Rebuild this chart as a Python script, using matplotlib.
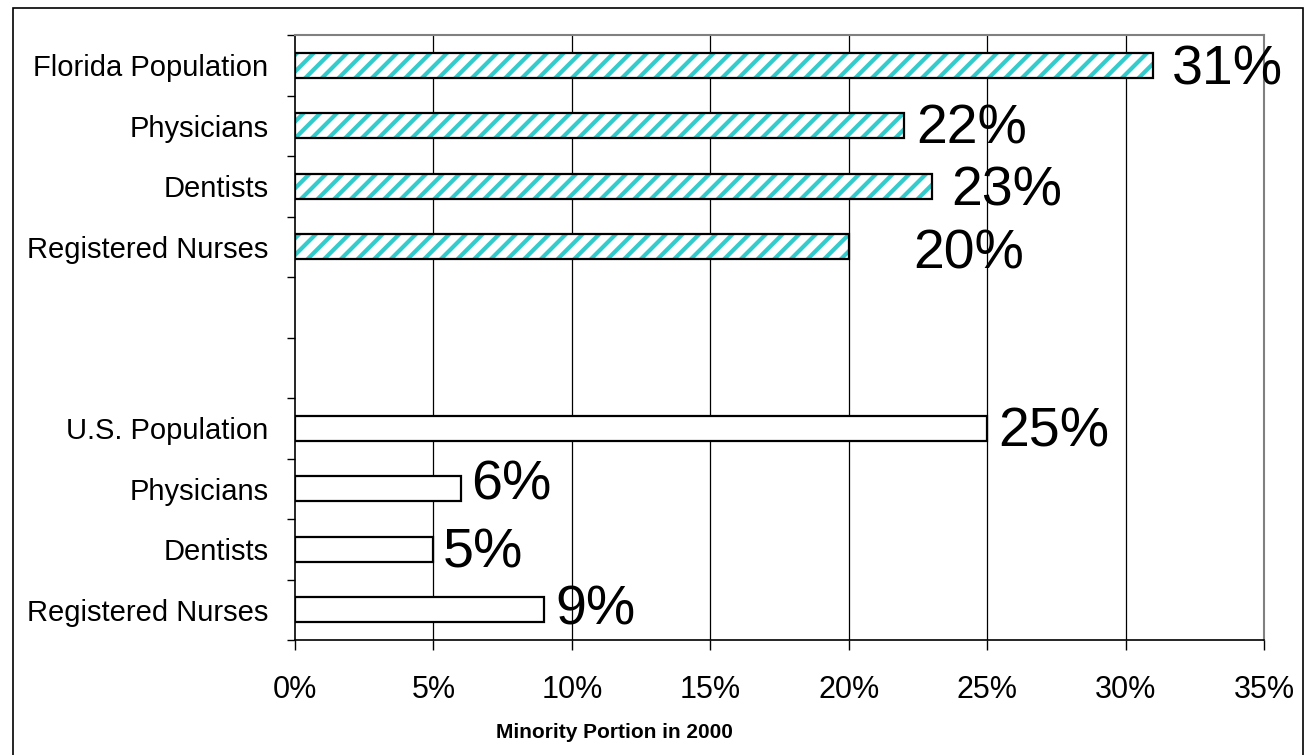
import numpy as np
import matplotlib
matplotlib.use("Agg")
import matplotlib.pyplot as plt
from matplotlib import font_manager
from matplotlib.patches import Rectangle


# top-to-bottom slots; the two blank slots separate Florida from the U.S.
CATEGORIES = [
    "Florida Population", "Physicians", "Dentists", "Registered Nurses",
    "", "",
    "U.S. Population", "Physicians", "Dentists", "Registered Nurses",
]
FLORIDA_VALUES = [31, 22, 23, 20]
US_VALUES = [25, 6, 5, 9]
VALUE_LABELS_FL = ["31%", "22%", "23%", "20%"]
VALUE_LABELS_US = ["25%", "6%", "5%", "9%"]
XTICKS = [0, 5, 10, 15, 20, 25, 30, 35]
XTICK_LABELS = ["0%", "5%", "10%", "15%", "20%", "25%", "30%", "35%"]

# label nudges in pixels (dx right, dy down from the bar centre), style only
NUDGE_FL = [(19, -1), (12, -2), (19, -1), (65, 2)]
NUDGE_US = [(11, -2), (10, -9), (9, -2), (11, -5)]

FONT = ["Liberation Sans", "Arial", "DejaVu Sans"]
TEAL = "#33CCCC"
LABEL_SIZE = 40
CAP = 0.716  # cap height of Liberation Sans in em

plt.rcParams["font.family"] = FONT
plt.rcParams["hatch.linewidth"] = 3.0

W, H = 1313, 755
PX = 72 / 100  # points per pixel at dpi 100
fig = plt.figure(figsize=(W / 100, H / 100), dpi=100)
ax = fig.add_axes([295 / W, 1 - 640 / H, (1264 - 295) / W, (640 - 35) / H])

fl_pos = np.arange(0, 4)
us_pos = np.arange(6, 10)
bar_h = 0.42

# hatch takes the edge colour, so the teal stripes and the black outline are two layers
ax.barh(fl_pos, FLORIDA_VALUES, height=bar_h, color="white",
        edgecolor=TEAL, linewidth=0, hatch="//", zorder=3)
ax.barh(fl_pos, FLORIDA_VALUES, height=bar_h, color="none",
        edgecolor="black", linewidth=1.6, zorder=3.5)
ax.barh(us_pos, US_VALUES, height=bar_h, color="white",
        edgecolor="black", linewidth=1.6, zorder=3)

def _labels(pos, vals, texts, nudges):
    cap_px = LABEL_SIZE / PX * CAP
    for p, v, t, (dx, dy) in zip(pos, vals, texts, nudges):
        ax.annotate(t, xy=(v, p), xytext=(dx * PX, -(dy + cap_px / 2) * PX),
                    textcoords="offset points", ha="left", va="baseline",
                    fontsize=LABEL_SIZE, color="black", zorder=4,
                    annotation_clip=False)

_labels(fl_pos, FLORIDA_VALUES, VALUE_LABELS_FL, NUDGE_FL)
_labels(us_pos, US_VALUES, VALUE_LABELS_US, NUDGE_US)

ax.set_xlim(0, 35)
ax.set_ylim(9.5, -0.5)

ax.set_xticks(XTICKS, labels=XTICK_LABELS)
ax.tick_params(axis="x", direction="out", length=7, width=1, pad=18,
               labelsize=22, color="black")

# boundaries get tick marks, centres carry the text
ax.set_yticks(np.arange(-0.5, 10, 1))
ax.set_yticklabels([])
ax.set_yticks(np.arange(0, 10), minor=True)
ax.set_yticklabels(CATEGORIES, minor=True)
ax.tick_params(axis="y", which="major", direction="out", length=6, width=1)
ax.tick_params(axis="y", which="minor", length=0, pad=19, labelsize=21)

for x in XTICKS[1:-1]:
    ax.axvline(x, color="black", linewidth=0.9, zorder=1)

ax.spines["left"].set_color("black")
ax.spines["bottom"].set_color("black")
ax.spines["left"].set_linewidth(1.2)
ax.spines["bottom"].set_linewidth(1.2)
ax.spines["top"].set_color("#808080")
ax.spines["right"].set_color("#808080")
ax.spines["top"].set_linewidth(1.5)
ax.spines["right"].set_linewidth(1.5)

# the axis title is a narrow bold face in the original
names = {f.name for f in font_manager.fontManager.ttflist}
if "Liberation Sans Narrow" in names:
    title_font, title_size = ["Liberation Sans Narrow"] + FONT, 18
else:
    title_font, title_size = FONT, 15
fig.text(614 / W, 1 - 733 / H, "Minority Portion in 2000", ha="center",
         va="center", fontsize=title_size, fontweight="bold", family=title_font)

# outer chart frame, bottom edge runs off the picture
fig.patches.append(Rectangle((13 / W, -0.02), (1303 - 13) / W, 1.02 - 8 / H,
                             transform=fig.transFigure, fill=False,
                             edgecolor="black", linewidth=1.2))

fig.savefig("out.png", dpi=100)
